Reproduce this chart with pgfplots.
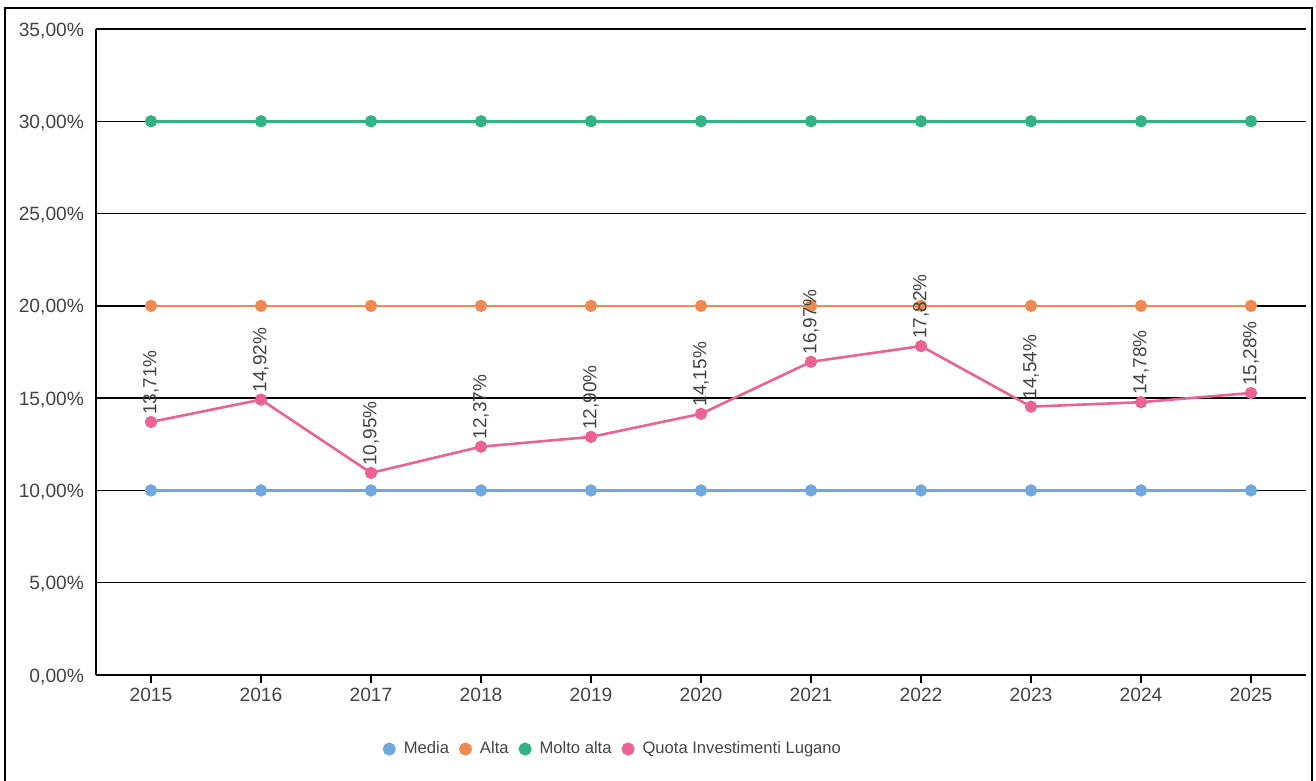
\documentclass[border=0pt]{standalone}
\usepackage{fontspec}
\setmainfont{Liberation Sans}
\usepackage{pgfplots}
\pgfplotsset{compat=1.18}
\definecolor{cMedia}{HTML}{6FA8DC}
\definecolor{cAlta}{HTML}{EE8A52}
\definecolor{cMolto}{HTML}{33B383}
\definecolor{cQuota}{HTML}{EA6393}
\definecolor{txt}{HTML}{444444}
\begin{document}
\begin{tikzpicture}
\useasboundingbox (0pt,0pt) rectangle (658pt,390.5pt);
\draw[line width=1pt] (2.5pt,386.5pt) rectangle (655.8pt,-10pt);
\begin{axis}[
  at={(48pt,53pt)}, anchor=south west,
  scale only axis, width=605pt, height=323pt,
  xmin=-0.5, xmax=10.5, ymin=0, ymax=35,
  xtick={0,...,10},
  xticklabels={2015,2016,2017,2018,2019,2020,2021,2022,2023,2024,2025},
  ytick={0,5,...,35},
  yticklabel={\pgfmathprintnumber[fixed,fixed zerofill,precision=2,use comma,assume math mode=true]{\tick}\%},
  axis x line*=bottom, axis y line*=left,
  x axis line style={-, line width=0.8pt},
  y axis line style={-, line width=0.8pt},
  ymajorgrids, grid style={black, line width=0.75pt},
  tick align=outside, major tick length=4pt,
  xtick style={draw=black, line width=0.8pt},
  ytick style={draw=none},
  ticklabel style={font=\fontsize{9.6}{11}\selectfont, text=txt},
  xticklabel style={yshift=1pt},
  yticklabel style={xshift=1.5pt, yshift=-0.8pt},
  legend columns=-1,
  legend style={draw=none, fill=none, at={(0.428,-0.1146)}, anchor=center,
    font=\fontsize{8.3}{10}\selectfont, text=txt,
    /tikz/every odd column/.append style={column sep=2pt},
    /tikz/every even column/.append style={column sep=3pt}},
  legend image code/.code={\fill[#1] (0,0) circle (2.6pt);},
  every axis plot/.append style={line width=1.3pt},
]
\addplot[color=cMedia, mark=*, mark size=2.4pt] coordinates {
 (0,10) (1,10) (2,10) (3,10) (4,10) (5,10) (6,10) (7,10) (8,10) (9,10) (10,10)};
\addlegendentry{Media}
\addplot[color=cAlta, mark=*, mark size=2.4pt] coordinates {
 (0,20) (1,20) (2,20) (3,20) (4,20) (5,20) (6,20) (7,20) (8,20) (9,20) (10,20)};
\addlegendentry{Alta}
\addplot[color=cMolto, mark=*, mark size=2.4pt] coordinates {
 (0,30) (1,30) (2,30) (3,30) (4,30) (5,30) (6,30) (7,30) (8,30) (9,30) (10,30)};
\addlegendentry{Molto alta}
\addplot[color=cQuota, mark=*, mark size=2.4pt,
  point meta=explicit symbolic, nodes near coords,
  every node near coord/.append style={rotate=90, anchor=west, inner sep=3pt,
    font=\fontsize{9.5}{11}\selectfont, text=txt}] coordinates {
 (0,13.71) [13,71\%]
 (1,14.92) [14,92\%]
 (2,10.95) [10,95\%]
 (3,12.37) [12,37\%]
 (4,12.90) [12,90\%]
 (5,14.15) [14,15\%]
 (6,16.97) [16,97\%]
 (7,17.82) [17,82\%]
 (8,14.54) [14,54\%]
 (9,14.78) [14,78\%]
 (10,15.28) [15,28\%]};
\addlegendentry{Quota Investimenti Lugano}
\end{axis}
\end{tikzpicture}
\end{document}
